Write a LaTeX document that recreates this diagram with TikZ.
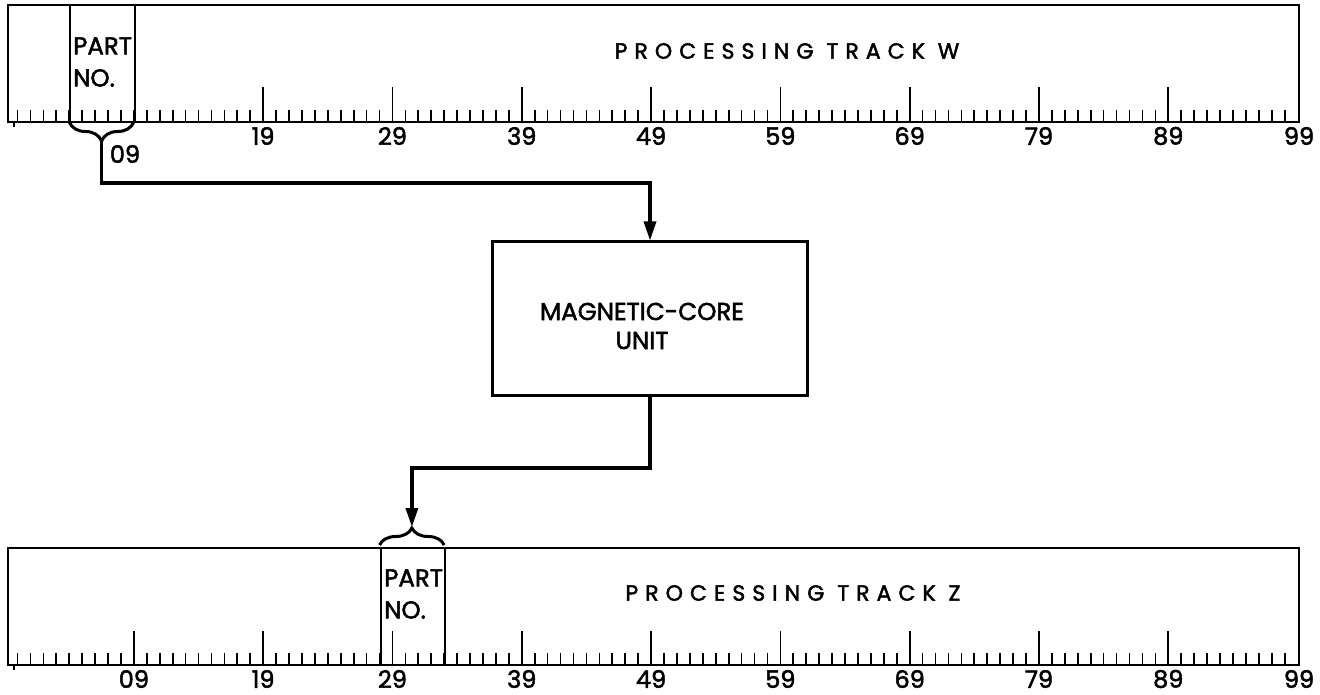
\documentclass[tikz,border=0pt]{standalone}
\usepackage{fontspec}
\setmainfont{Poppins}[FakeBold=2]
\newfontfamily\spacedfont{Poppins}[LetterSpace=32,FakeBold=2]
\usetikzlibrary{arrows.meta,decorations.pathreplacing}
\begin{document}
\begin{tikzpicture}[x=1pt,y=-1pt,
  trackbox/.style={draw, line width=2.2pt, inner sep=0pt, anchor=north west, minimum height=117pt},
  tickline/.style={line width=1.7pt},
  conn/.style={line width=3.2pt, -{Triangle[length=19pt,width=12pt]}},
  numlbl/.style={inner sep=0pt, font=\fontsize{24}{24}\selectfont},
  txt/.style={inner sep=0pt, font=\fontsize{24.5}{32}\selectfont, align=left, anchor=west},
  title/.style={inner sep=0pt, font=\spacedfont\fontsize{22}{22}\selectfont},
  bracestyle/.style={line width=3pt, decorate, decoration={brace, amplitude=19pt}}]
\useasboundingbox (0,0) rectangle (1320,695);
\def\P#1{17.5+12.93*#1}
% ---- Track W ----
\node[trackbox, minimum width=1291pt] (trackW) at (7,4) {};
\node[trackbox, minimum width=64.7pt] (partW) at ({\P{4}},4) {};
\node[txt] (partWtxt) at (73,62) {PART\\NO.};
\node[title] (titleW) at (787,51) {PROCESSING TRACK W};
\foreach \p in {0,...,98} \draw[tickline] ({\P{\p}},110) -- ++(0,11);
\foreach \p in {19,29,...,89} \draw[tickline] ({\P{\p}},87) -- ++(0,34);
\draw[tickline] (14,121) -- (14,127);
\foreach \p in {19,29,...,89} \node[numlbl] (lw\p) at ({\P{\p}},136) {\p};
\node[numlbl] (lw99) at (1299,136) {99};
\node[numlbl] (lw09) at (125,154) {09};
% brace under W part number
\coordinate (wtip) at (101.5,142);
\draw[bracestyle] ({\P{9}},122) -- ({\P{4}},122);
% ---- Magnetic core unit ----
\node[draw, line width=3pt, minimum width=315pt, minimum height=153pt, inner sep=0pt] (mc) at (650,318.5) {};
\node[inner sep=0pt, align=center, font=\fontsize{24.5}{29}\selectfont] (mctxt) at (642,326) {MAGNETIC-CORE\\UNIT};
\coordinate (mid1) at (650,183);
\draw[conn] (wtip) |- (mid1) -- (mc.north);
% ---- Track Z ----
\node[trackbox, minimum width=1291pt] (trackZ) at (7,547) {};
\node[trackbox, minimum width=64.7pt] (partZ) at ({\P{28}},547) {};
\node[txt] (partZtxt) at (384,594) {PART\\NO.};
\node[title] (titleZ) at (793,593) {PROCESSING TRACK Z};
\foreach \p in {0,...,98} \draw[tickline] ({\P{\p}},653) -- ++(0,11);
\foreach \p in {9,19,...,89} \draw[tickline] ({\P{\p}},631) -- ++(0,33);
\draw[tickline] (14,664) -- (14,670);
\foreach \p/\t in {9/09,19/19,29/29,39/39,49/49,59/59,69/69,79/79,89/89} \node[numlbl] (lz\p) at ({\P{\p}},679) {\t};
\node[numlbl] (lz99) at (1299,679) {99};
% brace above Z part number
\coordinate (ztip) at (411.9,527);
\draw[bracestyle, decoration={brace, amplitude=17pt}] ({\P{28}},545) -- ({\P{33}},545);
\coordinate (mid2) at (411.9,468);
\draw[conn] (mc.south) |- (mid2) -- (ztip);
\end{tikzpicture}
\end{document}
